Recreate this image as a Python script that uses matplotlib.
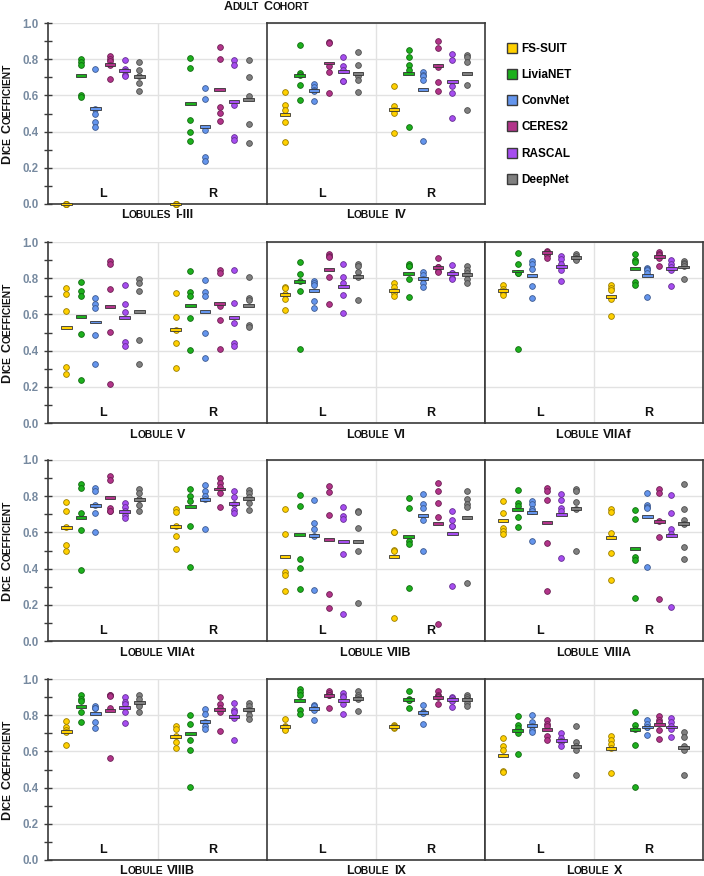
import matplotlib
matplotlib.use("Agg")
import matplotlib.pyplot as plt
import matplotlib.colors as mcolors
from matplotlib.lines import Line2D
import numpy as np

plt.rcParams['font.family'] = ['Liberation Sans', 'DejaVu Sans']

methods = ["FS-SUIT", "LiviaNET", "ConvNet", "CERES2", "RASCAL", "DeepNet"]
colors = ["#FFD000", "#1DB01D", "#6495ED", "#B2348A", "#A64DF0", "#808080"]
sides = ["L", "R"]
yticks = [0.0, 0.2, 0.4, 0.6, 0.8, 1.0]

# points per method (FS-SUIT, LiviaNET, ConvNet, CERES2, RASCAL, DeepNet) and the bar values
i_iii_L = [[0, 0, 0, 0, 0], [0.80, 0.786, 0.766, 0.60, 0.59], [0.744, 0.525, 0.496, 0.452, 0.424],
           [0.815, 0.80, 0.79, 0.77, 0.69], [0.797, 0.745, 0.735, 0.71, 0.705], [0.786, 0.738, 0.705, 0.668, 0.622]]
i_iii_L_bar = [0.0, 0.708, 0.528, 0.773, 0.738, 0.705]
i_iii_R = [[0, 0, 0, 0, 0], [0.806, 0.751, 0.465, 0.399, 0.347], [0.642, 0.579, 0.41, 0.262, 0.24],
           [0.867, 0.803, 0.537, 0.502, 0.458], [0.793, 0.769, 0.548, 0.369, 0.351], [0.797, 0.703, 0.594, 0.443, 0.339]]
i_iii_R_bar = [0.0, 0.553, 0.428, 0.635, 0.566, 0.576]

iv_L = [[0.618, 0.548, 0.52, 0.454, 0.341], [0.88, 0.723, 0.712, 0.659, 0.574], [0.662, 0.645, 0.63, 0.625, 0.57],
        [0.897, 0.889, 0.76, 0.732, 0.616], [0.812, 0.76, 0.74, 0.68, 0.677], [0.838, 0.769, 0.708, 0.686, 0.618]]
iv_L_bar = [0.496, 0.712, 0.627, 0.779, 0.734, 0.723]
iv_R = [[0.651, 0.542, 0.52, 0.502, 0.391], [0.852, 0.81, 0.769, 0.738, 0.423], [0.727, 0.715, 0.705, 0.686, 0.347],
        [0.899, 0.862, 0.756, 0.673, 0.622], [0.83, 0.797, 0.653, 0.613, 0.474], [0.823, 0.812, 0.782, 0.659, 0.518]]
iv_R_bar = [0.52, 0.72, 0.635, 0.764, 0.675, 0.72]

v_L = [[0.745, 0.71, 0.617, 0.31, 0.268], [0.78, 0.73, 0.703, 0.49, 0.237], [0.69, 0.655, 0.633, 0.484, 0.328],
       [0.895, 0.881, 0.741, 0.503, 0.215], [0.761, 0.655, 0.611, 0.45, 0.428], [0.793, 0.774, 0.728, 0.459, 0.327]]
v_L_bar = [0.53, 0.587, 0.558, 0.646, 0.583, 0.617]
v_R = [[0.719, 0.587, 0.514, 0.444, 0.306], [0.84, 0.725, 0.701, 0.578, 0.406], [0.789, 0.721, 0.701, 0.497, 0.36],
       [0.844, 0.831, 0.646, 0.569, 0.407], [0.844, 0.664, 0.554, 0.444, 0.426], [0.804, 0.692, 0.679, 0.541, 0.528]]
v_R_bar = [0.517, 0.65, 0.617, 0.66, 0.583, 0.65]

vi_L = [[0.752, 0.745, 0.712, 0.686, 0.622], [0.89, 0.824, 0.785, 0.728, 0.407], [0.785, 0.775, 0.765, 0.673, 0.633],
        [0.932, 0.92, 0.917, 0.804, 0.66], [0.877, 0.807, 0.774, 0.708, 0.609], [0.881, 0.866, 0.835, 0.804, 0.679]]
vi_L_bar = [0.712, 0.78, 0.73, 0.848, 0.756, 0.807]
vi_R = [[0.771, 0.752, 0.73, 0.72, 0.701], [0.881, 0.87, 0.866, 0.798, 0.697], [0.835, 0.817, 0.798, 0.771, 0.752],
        [0.912, 0.862, 0.86, 0.84, 0.835], [0.872, 0.83, 0.829, 0.80, 0.798], [0.868, 0.844, 0.826, 0.798, 0.776]]
vi_R_bar = [0.734, 0.826, 0.798, 0.859, 0.826, 0.822]

viiaf_L = [[0.761, 0.743, 0.73, 0.72, 0.706], [0.939, 0.881, 0.83, 0.826, 0.411], [0.895, 0.881, 0.85, 0.758, 0.692],
           [0.95, 0.945, 0.936, 0.93, 0.914], [0.923, 0.908, 0.877, 0.844, 0.782], [0.936, 0.921, 0.914, 0.906, 0.9]]
viiaf_L_bar = [0.73, 0.84, 0.813, 0.94, 0.866, 0.914]
viiaf_R = [[0.761, 0.747, 0.734, 0.684, 0.591], [0.932, 0.903, 0.89, 0.78, 0.761], [0.855, 0.85, 0.844, 0.83, 0.697],
           [0.945, 0.935, 0.927, 0.914, 0.868], [0.899, 0.881, 0.86, 0.844, 0.758], [0.895, 0.885, 0.881, 0.87, 0.793]]
viiaf_R_bar = [0.701, 0.853, 0.815, 0.921, 0.853, 0.862]

viiat_L = [[0.769, 0.716, 0.628, 0.528, 0.495], [0.87, 0.848, 0.706, 0.613, 0.393], [0.848, 0.831, 0.752, 0.708, 0.6],
           [0.914, 0.89, 0.734, 0.72, 0.716], [0.761, 0.738, 0.716, 0.697, 0.679], [0.84, 0.817, 0.783, 0.75, 0.717]]
viiat_L_bar = [0.626, 0.684, 0.749, 0.794, 0.717, 0.78]
viiat_R = [[0.728, 0.71, 0.637, 0.582, 0.508], [0.839, 0.802, 0.774, 0.637, 0.407], [0.862, 0.826, 0.802, 0.783, 0.618],
           [0.899, 0.872, 0.85, 0.82, 0.743], [0.826, 0.793, 0.758, 0.721, 0.706], [0.835, 0.817, 0.798, 0.761, 0.721]]
viiat_R_bar = [0.631, 0.743, 0.78, 0.84, 0.758, 0.785]

viib_L = [[0.73, 0.591, 0.38, 0.367, 0.279], [0.804, 0.745, 0.455, 0.402, 0.286], [0.78, 0.651, 0.618, 0.578, 0.283],
          [0.859, 0.822, 0.694, 0.261, 0.183], [0.739, 0.692, 0.673, 0.481, 0.147], [0.72, 0.713, 0.624, 0.495, 0.209]]
viib_L_bar = [0.468, 0.589, 0.582, 0.563, 0.549, 0.552]
viib_R = [[0.604, 0.6, 0.503, 0.5, 0.128], [0.791, 0.734, 0.554, 0.536, 0.295], [0.811, 0.756, 0.734, 0.668, 0.499],
          [0.875, 0.831, 0.761, 0.683, 0.092], [0.719, 0.67, 0.636, 0.635, 0.305], [0.831, 0.783, 0.756, 0.738, 0.323]]
viib_R_bar = [0.468, 0.578, 0.692, 0.648, 0.593, 0.684]

viiia_L = [[0.776, 0.706, 0.624, 0.609, 0.591], [0.833, 0.761, 0.747, 0.686, 0.628], [0.774, 0.756, 0.73, 0.72, 0.554],
           [0.844, 0.826, 0.78, 0.541, 0.279], [0.811, 0.78, 0.734, 0.719, 0.457], [0.84, 0.826, 0.767, 0.728, 0.499]]
viiia_L_bar = [0.664, 0.728, 0.71, 0.653, 0.701, 0.734]
viiia_R = [[0.728, 0.712, 0.596, 0.484, 0.338], [0.723, 0.672, 0.464, 0.45, 0.239], [0.82, 0.752, 0.74, 0.734, 0.409],
           [0.839, 0.817, 0.661, 0.576, 0.233], [0.809, 0.708, 0.618, 0.591, 0.187], [0.87, 0.73, 0.67, 0.648, 0.521, 0.455]]
viiia_R_bar = [0.572, 0.51, 0.69, 0.659, 0.583, 0.65]

viiib_L = [[0.767, 0.733, 0.72, 0.706, 0.636], [0.91, 0.892, 0.88, 0.818, 0.763], [0.853, 0.84, 0.84, 0.763, 0.73],
           [0.914, 0.91, 0.905, 0.84, 0.564], [0.901, 0.873, 0.86, 0.818, 0.759], [0.914, 0.89, 0.864, 0.85, 0.818]]
viiib_L_bar = [0.711, 0.849, 0.807, 0.827, 0.844, 0.868]
viiib_R = [[0.739, 0.726, 0.684, 0.653, 0.619], [0.8, 0.752, 0.662, 0.61, 0.404], [0.836, 0.807, 0.76, 0.739, 0.724],
           [0.901, 0.862, 0.84, 0.818, 0.715], [0.868, 0.831, 0.82, 0.785, 0.662], [0.868, 0.849, 0.827, 0.803, 0.781]]
viiib_R_bar = [0.68, 0.697, 0.767, 0.831, 0.794, 0.831]

ix_L = [[0.781, 0.739, 0.735, 0.725, 0.72], [0.947, 0.926, 0.91, 0.831, 0.809], [0.858, 0.85, 0.835, 0.83, 0.772],
        [0.932, 0.92, 0.914, 0.91, 0.84], [0.923, 0.904, 0.9, 0.864, 0.809], [0.932, 0.914, 0.9, 0.892, 0.822]]
ix_L_bar = [0.739, 0.882, 0.836, 0.908, 0.882, 0.892]
ix_R = [[0.745, 0.739, 0.735, 0.73, 0.735], [0.932, 0.89, 0.885, 0.883, 0.84], [0.858, 0.82, 0.816, 0.81, 0.754],
        [0.932, 0.914, 0.905, 0.899, 0.862], [0.901, 0.895, 0.886, 0.88, 0.846], [0.91, 0.9, 0.89, 0.868, 0.849]]
ix_R_bar = [0.739, 0.886, 0.816, 0.9, 0.886, 0.886]

x_L_ = [[0.676, 0.632, 0.605, 0.494, 0.487], [0.794, 0.748, 0.73, 0.702, 0.588], [0.803, 0.761, 0.739, 0.72, 0.708],
        [0.776, 0.752, 0.74, 0.684, 0.662], [0.702, 0.675, 0.66, 0.651, 0.632], [0.743, 0.651, 0.632, 0.605, 0.471]]
x_L_bar = [0.579, 0.717, 0.743, 0.72, 0.662, 0.625]
x_R_ = [[0.684, 0.665, 0.643, 0.619, 0.482], [0.816, 0.748, 0.724, 0.638, 0.404], [0.772, 0.752, 0.735, 0.733, 0.691],
        [0.794, 0.776, 0.76, 0.717, 0.671], [0.785, 0.763, 0.74, 0.721, 0.678], [0.706, 0.678, 0.632, 0.61, 0.472]]
x_R_bar = [0.616, 0.72, 0.735, 0.748, 0.735, 0.623]

# (title, row, col, L points, L bars, R points, R bars)
panels = [
    ("Lobules I-III", 0, 0, i_iii_L, i_iii_L_bar, i_iii_R, i_iii_R_bar),
    ("Lobule IV", 0, 1, iv_L, iv_L_bar, iv_R, iv_R_bar),
    ("Lobule V", 1, 0, v_L, v_L_bar, v_R, v_R_bar),
    ("Lobule VI", 1, 1, vi_L, vi_L_bar, vi_R, vi_R_bar),
    ("Lobule VIIAf", 1, 2, viiaf_L, viiaf_L_bar, viiaf_R, viiaf_R_bar),
    ("Lobule VIIAt", 2, 0, viiat_L, viiat_L_bar, viiat_R, viiat_R_bar),
    ("Lobule VIIB", 2, 1, viib_L, viib_L_bar, viib_R, viib_R_bar),
    ("Lobule VIIIA", 2, 2, viiia_L, viiia_L_bar, viiia_R, viiia_R_bar),
    ("Lobule VIIIB", 3, 0, viiib_L, viiib_L_bar, viiib_R, viiib_R_bar),
    ("Lobule IX", 3, 1, ix_L, ix_L_bar, ix_R, ix_R_bar),
    ("Lobule X", 3, 2, x_L_, x_L_bar, x_R_, x_R_bar),
]

W, H = 704, 876
fig = plt.figure(figsize=(W / 100, H / 100), dpi=100)
renderer = fig.canvas.get_renderer()


def small_caps(x, y, s, big, small, rotation=0):
    # fake small caps: x, y in pixels from top-left, y is the baseline
    runs = []
    for i, word in enumerate(s.split(" ")):
        if i:
            runs.append([" ", big])
        if len(word) > 1 and word[1:].islower():
            runs.append([word[0], big])
            runs.append([word[1:].upper(), small])
        else:
            runs.append([word, big])
    widths = []
    for txt, size in runs:
        if txt == " ":
            widths.append(0.28 * size * 100 / 72)
            continue
        t = fig.text(0, 0, txt, fontsize=size, fontweight="bold")
        widths.append(t.get_window_extent(renderer).width + 0.5)
        t.remove()
    pos = -sum(widths) / 2
    for (txt, size), w in zip(runs, widths):
        if txt != " ":
            if rotation:
                fx, fy = x, y - pos
            else:
                fx, fy = x + pos, y
            fig.text(fx / W, 1 - fy / H, txt, fontsize=size, fontweight="bold", color="#111111",
                     rotation=rotation, rotation_mode="anchor", ha="left", va="baseline")
        pos += w


def darker(c, f=0.6):
    r, g, b = mcolors.to_rgb(c)
    return (r * f, g * f, b * f)


x_L = np.arange(6) + 1.25
x_R = np.arange(6) + 8.75
x_R_narrow = np.array([8.68, 10.33, 11.17, 12.0, 12.83, 13.67])

col_left = [48, 267, 485]
col_width = [219, 218, 218]
row_top = [23, 242, 460, 679]
row_h = 181

for title, r, c, pts_L, bar_L, pts_R, bar_R in panels:
    left, top, w = col_left[c], row_top[r], col_width[c]
    ax = fig.add_axes([left / W, 1 - (top + row_h) / H, w / W, row_h / H])
    ax.set_xlim(0, 15)
    ax.set_ylim(0, 1)
    ax.set_axisbelow(True)
    ax.grid(axis="y", color="#e2e2e2", lw=1.0)
    ax.axvline(7.5, color="#e2e2e2", lw=1.0, zorder=0)
    ax.set_xticks([])
    ax.set_yticks(yticks)
    for sp in ax.spines.values():
        sp.set_color("#3a3a3a")
        sp.set_linewidth(1.2)
    if c == 0:
        ax.spines["top"].set_visible(False)
        ax.spines["right"].set_visible(False)
        ax.set_yticks(np.arange(0.1, 1.0, 0.2), minor=True)
        ax.set_yticklabels(["%.1f" % v for v in yticks])
        ax.tick_params(axis="y", which="both", direction="inout", length=6, width=1.0,
                       color="#3a3a3a", pad=4, labelsize=8.3, labelcolor="#778aa0")
        for lab in ax.get_yticklabels():
            lab.set_fontweight("bold")
        small_caps(10.5, top + row_h / 2, "Dice Coefficient", 9, 7.4, rotation=90)
    else:
        ax.tick_params(axis="y", length=0, labelleft=False)

    xr = x_R_narrow if c == 2 else x_R
    for xs, pts, bars in [(x_L, pts_L, bar_L), (xr, pts_R, bar_R)]:
        for k in range(6):
            vals = np.array(pts[k])
            ax.scatter(np.full(len(vals), xs[k]), vals, s=17, color=colors[k],
                       edgecolors=[darker(colors[k])], linewidths=0.6, zorder=3, clip_on=False)
            ax.bar(xs[k], 0.016, bottom=bars[k] - 0.008, width=0.72, color=colors[k],
                   edgecolor="#333333", linewidth=0.6, zorder=4, clip_on=False)

    for sx, lab in zip([3.75, 11.25], sides):
        ax.text(sx, 0.055, lab, ha="center", va="center", fontsize=9, fontweight="bold", color="#111111")

    small_caps(left + w / 2, top + row_h + 14.5, title, 9, 7.4)

small_caps(266.5, 9.5, "Adult Cohort", 9, 7.4)

handles = [Line2D([], [], marker="s", ls="", markersize=7.4, markerfacecolor=col,
                  markeredgecolor="#3a3a3a", markeredgewidth=1.0) for col in colors]
fig.legend(handles, methods, loc="upper left", bbox_to_anchor=(506 / W, 1 - 43 / H),
           frameon=False, prop=dict(weight="bold", size=8.5), handlelength=1.0,
           handletextpad=0.3, labelspacing=1.2, borderaxespad=0, borderpad=0)

fig.savefig("out.png", dpi=100)
